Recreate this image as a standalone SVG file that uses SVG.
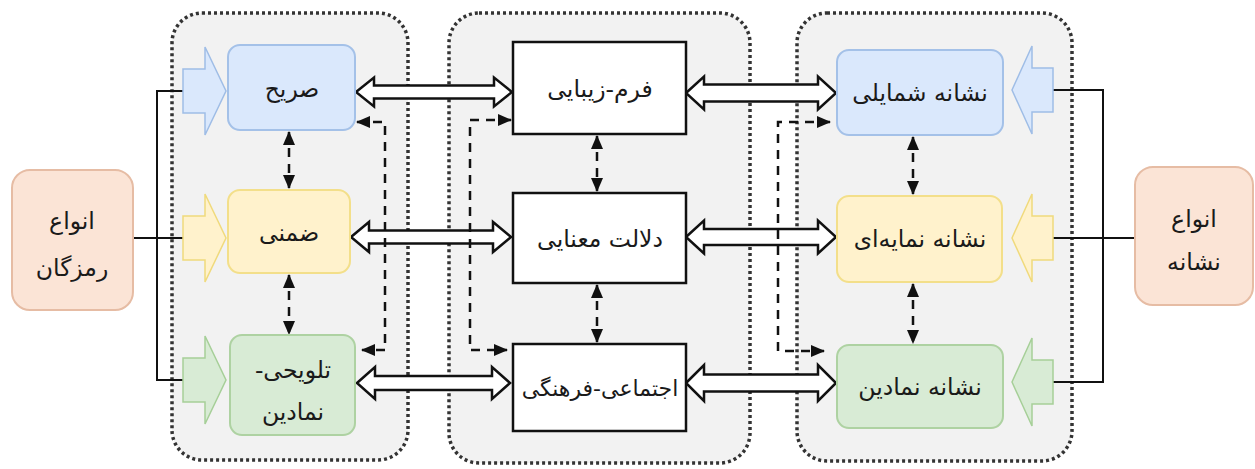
<svg xmlns="http://www.w3.org/2000/svg" width="1255" height="469" viewBox="0 0 1255 469">
<defs>
<style>
.cont{fill:#f2f2f2;stroke:#333333;stroke-width:3.5;stroke-dasharray:3 3}
.blue{fill:#dae8fc;stroke:#a4c1e8;stroke-width:2}
.yellow{fill:#fff2cc;stroke:#f3df8a;stroke-width:2}
.green{fill:#d8ebd5;stroke:#aed2a2;stroke-width:2}
.peach{fill:#fbe4d6;stroke:#e6bca4;stroke-width:2}
.mid{fill:#ffffff;stroke:#111111;stroke-width:2.5}
.ba-blue{fill:#dae8fc;stroke:#9fbde6;stroke-width:1.5}
.ba-yellow{fill:#fff2cc;stroke:#f0da7c;stroke-width:1.5}
.ba-green{fill:#d8ebd5;stroke:#a6cf98;stroke-width:1.5}
.dbl{fill:#ffffff;stroke:#111111;stroke-width:2.5;stroke-linejoin:miter}
.solid{fill:none;stroke:#111111;stroke-width:2}
.dash{fill:none;stroke:#111111;stroke-width:2.5;stroke-dasharray:9 7}
text{font-family:"DejaVu Sans",sans-serif;font-size:23.5px;fill:#1a1a1a;text-anchor:middle;direction:rtl}
.sm{font-size:22px}
</style>
<marker id="ah" viewBox="0 0 14 12" refX="13" refY="6" markerWidth="14" markerHeight="12" markerUnits="userSpaceOnUse" orient="auto-start-reverse">
<path d="M0,0 L14,6 L0,12 Z" fill="#111111"/>
</marker>
</defs>
<rect width="1255" height="469" fill="#ffffff"/>
<g id="containers">
<rect class="cont" x="172" y="13" width="236" height="447" rx="30"/>
<rect class="cont" x="449" y="13" width="301" height="450" rx="30"/>
<rect class="cont" x="797" y="13" width="275" height="448" rx="30"/>
</g>
<g id="connectors">
<path class="solid" d="M183,91 H157 V380 H183"/>
<path class="solid" d="M133,238 H183"/>
<path class="solid" d="M1053,90 H1103 V382 H1053"/>
<path class="solid" d="M1053,238 H1135"/>
<path class="ba-blue" d="M183,69 H205 V47 L226,91 L205,135 V113 H183 Z"/>
<path class="ba-yellow" d="M183,216 H205 V194 L226,238 L205,282 V260 H183 Z"/>
<path class="ba-green" d="M183,358 H205 V336 L226,380 L205,424 V402 H183 Z"/>
<path class="ba-blue" d="M1053,68 H1032 V46 L1012,90 L1032,134 V112 H1053 Z"/>
<path class="ba-yellow" d="M1053,216 H1032 V194 L1012,238 L1032,282 V260 H1053 Z"/>
<path class="ba-green" d="M1053,360 H1032 V338 L1012,382 L1032,426 V404 H1053 Z"/>
<path class="dbl" d="M356,92 L374,77.5 L374,85.5 L494,85.5 L494,77.5 L512,92 L494,106.5 L494,98.5 L374,98.5 L374,106.5 Z"/>
<path class="dbl" d="M686,93 L704,76.5 L704,84.5 L818,84.5 L818,76.5 L836,93 L818,109.5 L818,101.5 L704,101.5 L704,109.5 Z"/>
<path class="dbl" d="M351,237 L369,222 L369,230.5 L493,230.5 L493,222 L511,237 L493,252 L493,243.5 L369,243.5 L369,252 Z"/>
<path class="dbl" d="M686,237 L704,220.5 L704,229 L818,229 L818,220.5 L836,237 L818,253.5 L818,245 L704,245 L704,253.5 Z"/>
<path class="dbl" d="M357,383 L375,367 L375,376 L492,376 L492,367 L510,383 L492,399 L492,390 L375,390 L375,399 Z"/>
<path class="dbl" d="M686,383 L704,365 L704,374.5 L818,374.5 L818,365 L836,383 L818,401 L818,391.5 L704,391.5 L704,401 Z"/>
<path class="dash" d="M289,132 V188" marker-start="url(#ah)" marker-end="url(#ah)"/>
<path class="dash" d="M289,275 V334" marker-start="url(#ah)" marker-end="url(#ah)"/>
<path class="dash" d="M597,136 V191" marker-start="url(#ah)" marker-end="url(#ah)"/>
<path class="dash" d="M597,285 V342" marker-start="url(#ah)" marker-end="url(#ah)"/>
<path class="dash" d="M913,137 V194" marker-start="url(#ah)" marker-end="url(#ah)"/>
<path class="dash" d="M913,284 V343" marker-start="url(#ah)" marker-end="url(#ah)"/>
<path class="dash" d="M357,122 H385 V350 H362" marker-start="url(#ah)" marker-end="url(#ah)"/>
<path class="dash" d="M511,120 H470 V350 H507" marker-start="url(#ah)" marker-end="url(#ah)"/>
<path class="dash" d="M830,122 H778 V351 H824" marker-start="url(#ah)" marker-end="url(#ah)"/>
</g>
<g id="node-codes">
<rect class="peach" x="12" y="170" width="121" height="140" rx="18"/>
<text x="72" y="229">انواع</text>
<text x="72" y="276">رمزگان</text>
</g>
<g id="node-explicit">
<rect class="blue" x="228" y="45" width="127" height="85" rx="12"/>
<text x="292" y="97">صریح</text>
</g>
<g id="node-implicit">
<rect class="yellow" x="228" y="190" width="122" height="83" rx="12"/>
<text x="289" y="241">ضمنی</text>
</g>
<g id="node-allusive">
<rect class="green" x="230" y="335" width="125" height="100" rx="12"/>
<text x="293" y="378">تلویحی-</text>
<text x="293" y="420">نمادین</text>
</g>
<g id="node-form">
<rect class="mid" x="513" y="42" width="173" height="92"/>
<text x="600" y="97">فرم-زیبایی</text>
</g>
<g id="node-meaning">
<rect class="mid" x="513" y="193" width="173" height="90"/>
<text x="600" y="247">دلالت معنایی</text>
</g>
<g id="node-social">
<rect class="mid" x="513" y="344" width="173" height="87"/>
<text class="sm" x="600" y="396">اجتماعی-فرهنگی</text>
</g>
<g id="node-icon">
<rect class="blue" x="837" y="50" width="166" height="85" rx="12"/>
<text x="920" y="101">نشانه شمایلی</text>
</g>
<g id="node-index">
<rect class="yellow" x="837" y="196" width="165" height="86" rx="12"/>
<text x="920" y="247">نشانه نمایه‌ای</text>
</g>
<g id="node-symbol">
<rect class="green" x="837" y="345" width="166" height="83" rx="12"/>
<text x="920" y="395">نشانه نمادین</text>
</g>
<g id="node-signs">
<rect class="peach" x="1135" y="167" width="118" height="138" rx="18"/>
<text x="1194" y="227">انواع</text>
<text x="1194" y="270">نشانه</text>
</g>
</svg>
